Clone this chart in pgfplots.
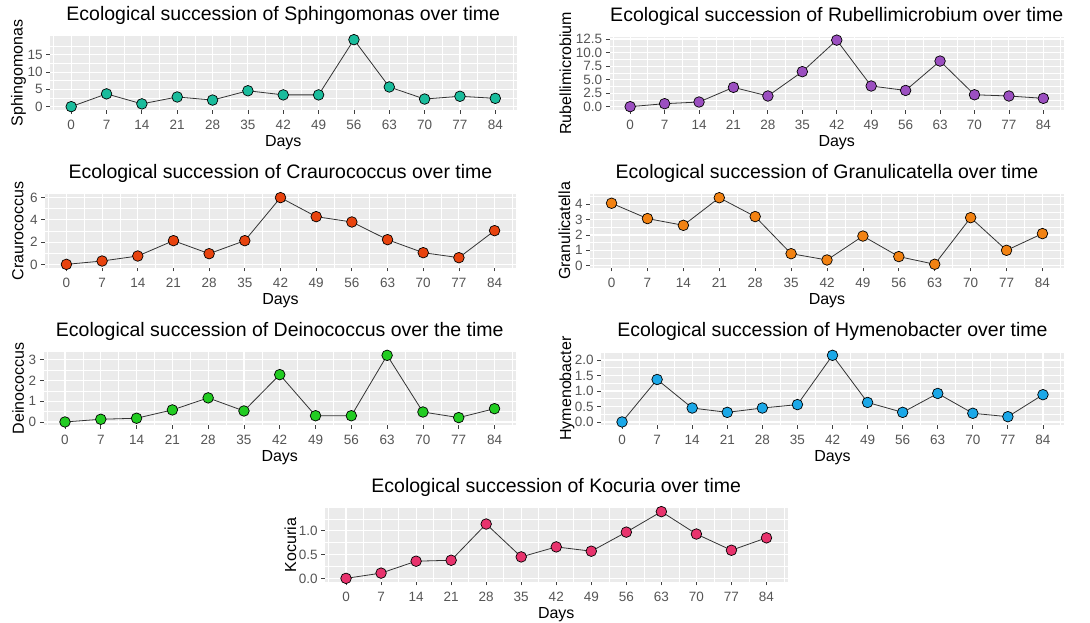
\documentclass[border=0pt]{standalone}
\usepackage{fontspec}
\setmainfont{Liberation Sans}
\usepackage{pgfplots}
\pgfplotsset{compat=1.18}
\definecolor{bg}{HTML}{EBEBEB}
\definecolor{cA}{HTML}{1ABC9C}
\definecolor{cB}{HTML}{9B4FC0}
\definecolor{cC}{HTML}{E8430E}
\definecolor{cD}{HTML}{F28212}
\definecolor{cE}{HTML}{22CC22}
\definecolor{cF}{HTML}{1BA8E8}
\definecolor{cG}{HTML}{E8336D}
\definecolor{tk}{HTML}{555555}
\pgfplotsset{gg/.style={
  scale only axis, anchor=north west,
  axis background/.style={fill=bg},
  axis line style={draw=none},
  xtick pos=bottom, ytick pos=left,
  tick align=outside, major tick length=3.7pt, minor tick length=0pt,
  every tick/.style={color=black!75, line width=0.8pt},
  grid=both,
  major grid style={white, line width=1.1pt},
  minor grid style={white, line width=0.55pt},
  xtick={0,7,...,84}, minor xtick={-3.5,3.5,...,87.5},
  enlarge x limits=0.05, enlarge y limits=0.05,
  tick label style={font=\fontsize{13.5}{14}\selectfont, text=tk},
  xticklabel style={anchor=base, yshift=-15.8pt, inner sep=0pt},
  yticklabel style={anchor=east, xshift=-3.5pt, inner sep=0pt},
  title style={at={(0.5,1)}, anchor=base, yshift=9.5pt, inner sep=0pt, font=\fontsize{19.5}{20}\selectfont},
  xlabel={Days},
  xlabel style={at={(axis description cs:0.5,0)}, anchor=base, yshift=-36.5pt, inner sep=0pt, font=\fontsize{16}{17}\selectfont},
  ylabel style={anchor=base, inner sep=0pt, font=\fontsize{16}{17}\selectfont},
  /pgf/number format/assume math mode=true,
},
gp/.style={color=black!80, line width=0.8pt, mark=*, mark size=5.3pt,
     mark options={draw=black, line width=0.7pt, fill=#1}}
}
\begin{document}
\begin{tikzpicture}
\useasboundingbox (0pt,0pt) rectangle (1090pt,623pt);
% Panel 1
\begin{axis}[gg, at={(50pt,586.7pt)}, width=466.5pt, height=73.7pt,
  title={Ecological succession of Sphingomonas over time},
  ylabel={Sphingomonas}, ylabel style={at={(axis description cs:-0.0585,0.5)}},
  ytick={0,5,10,15}, minor ytick={2.5,7.5,12.5,17.5}]
\addplot[gp=cA] coordinates {(0,0) (7,3.7) (14,0.8) (21,2.8) (28,1.9) (35,4.6) (42,3.4) (49,3.4) (56,19.4) (63,5.7) (70,2.2) (77,3.0) (84,2.4)};
\end{axis}
% Panel 2
\begin{axis}[gg, at={(609.5pt,586.2pt)}, width=454.5pt, height=73.2pt,
  title={Ecological succession of Rubellimicrobium over time},
  ylabel={Rubellimicrobium}, ylabel style={at={(axis description cs:-0.0847,0.5)}},
  ytick={0,2.5,5,7.5,10,12.5}, minor ytick={1.25,3.75,6.25,8.75,11.25},
  yticklabel style={/pgf/number format/.cd, fixed, fixed zerofill, precision=1}]
\addplot[gp=cB] coordinates {(0,0) (7,0.55) (14,0.86) (21,3.57) (28,1.97) (35,6.47) (42,12.3) (49,3.82) (56,3.0) (63,8.43) (70,2.2) (77,1.97) (84,1.54)};
\end{axis}
% Panel 3
\begin{axis}[gg, at={(45pt,428.7pt)}, width=471pt, height=73.4pt,
  title={Ecological succession of Craurococcus over time},
  ylabel={Craurococcus}, ylabel style={at={(axis description cs:-0.0461,0.5)}},
  ytick={0,2,4,6}, minor ytick={1,3,5}]
\addplot[gp=cC] coordinates {(0,0) (7,0.3) (14,0.75) (21,2.13) (28,0.96) (35,2.13) (42,6.0) (49,4.29) (56,3.81) (63,2.22) (70,1.05) (77,0.6) (84,3.03)};
\end{axis}
% Panel 4
\begin{axis}[gg, at={(590pt,428.6pt)}, width=474pt, height=73.2pt,
  title={Ecological succession of Granulicatella over time},
  ylabel={Granulicatella}, ylabel style={at={(axis description cs:-0.0422,0.5)}},
  ytick={0,1,2,3,4}, minor ytick={0.5,1.5,2.5,3.5,4.5}]
\addplot[gp=cD] coordinates {(0,4.07) (7,3.07) (14,2.63) (21,4.43) (28,3.2) (35,0.78) (42,0.37) (49,1.93) (56,0.59) (63,0.09) (70,3.13) (77,1.0) (84,2.09)};
\end{axis}
% Panel 5
\begin{axis}[gg, at={(43.5pt,271pt)}, width=472.5pt, height=73.3pt,
  title={Ecological succession of Deinococcus over the time},
  ylabel={Deinococcus}, ylabel style={at={(axis description cs:-0.0413,0.5)}},
  ytick={0,1,2,3}, minor ytick={0.5,1.5,2.5}]
\addplot[gp=cE] coordinates {(0,0) (7,0.13) (14,0.18) (21,0.58) (28,1.16) (35,0.53) (42,2.28) (49,0.3) (56,0.3) (63,3.21) (70,0.48) (77,0.21) (84,0.64)};
\end{axis}
% Panel 6
\begin{axis}[gg, at={(601pt,271pt)}, width=463pt, height=73.3pt,
  title={Ecological succession of Hymenobacter over time},
  ylabel={Hymenobacter}, ylabel style={at={(axis description cs:-0.0648,0.5)}},
  ytick={0,0.5,1,1.5,2}, minor ytick={0.25,0.75,1.25,1.75,2.25},
  yticklabel style={/pgf/number format/.cd, fixed, fixed zerofill, precision=1}]
\addplot[gp=cF] coordinates {(0,0) (7,1.37) (14,0.45) (21,0.31) (28,0.45) (35,0.56) (42,2.15) (49,0.63) (56,0.31) (63,0.92) (70,0.28) (77,0.17) (84,0.88)};
\end{axis}
% Panel 7
\begin{axis}[gg, at={(325pt,114.7pt)}, width=462.5pt, height=73.4pt,
  title={Ecological succession of Kocuria over time},
  ylabel={Kocuria}, ylabel style={at={(axis description cs:-0.0627,0.5)}},
  ytick={0,0.5,1}, minor ytick={0.25,0.75,1.25},
  yticklabel style={/pgf/number format/.cd, fixed, fixed zerofill, precision=1}]
\addplot[gp=cG] coordinates {(0,0) (7,0.11) (14,0.36) (21,0.38) (28,1.14) (35,0.45) (42,0.66) (49,0.57) (56,0.97) (63,1.40) (70,0.93) (77,0.59) (84,0.85)};
\end{axis}
\end{tikzpicture}
\end{document}
